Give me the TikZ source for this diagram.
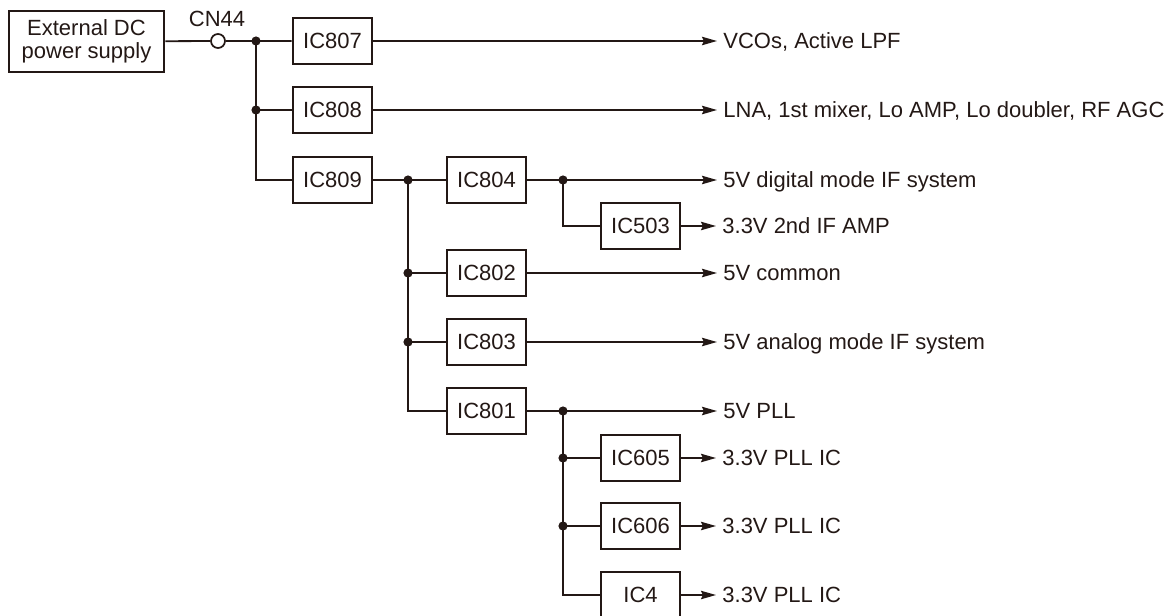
\documentclass[tikz,border=0pt]{standalone}
\usepackage{fontspec}
\setmainfont{Liberation Sans}
\usetikzlibrary{arrows.meta}
\definecolor{ink}{RGB}{35,24,21}
\tikzset{
  icbox/.style={draw=ink, line width=1.3pt, minimum width=39.5pt, minimum height=23pt, inner sep=0pt, text=ink, font=\fontsize{11}{12}\selectfont, text height=7.9pt, text depth=0pt},
  supplybox/.style={draw=ink, line width=1.3pt, minimum width=77.5pt, minimum height=30.5pt, inner sep=0pt, text=ink, align=center, font=\fontsize{11}{11.5}\selectfont},
  jack/.style={circle, draw=ink, fill=white, line width=0.85pt, minimum size=7pt, inner sep=0pt},
  tag/.style={text=ink, inner sep=0pt, font=\fontsize{11}{12}\selectfont},
  load/.style={anchor=west, text=ink, inner sep=3pt, font=\fontsize{11}{12}\selectfont, text height=7.9pt, text depth=0pt},
  wire/.style={draw=ink, line width=0.9pt},
  feed/.style={wire, -{Stealth[length=7.5pt, width=4.2pt, inset=1pt]}},
}
\begin{document}
\begin{tikzpicture}[x=0.5pt, y=-0.5pt]
\useasboundingbox (0,0) rectangle (1170,615);
% supply side
\node[supplybox] (dc) at (86.5,41.5) {External DC\\power supply};
\node[jack] (cn44) at (218,41) {};
\node[tag] (cn44t) at (217,19) {CN44};
\coordinate (j1) at (256,41);
% regulators
\node[icbox] (ic807) at (332.5,41) {IC807};
\node[icbox] (ic808) at (332.5,110) {IC808};
\node[icbox] (ic809) at (332.5,180) {IC809};
\coordinate (j2) at (408,180);
\node[icbox] (ic804) at (486.5,180) {IC804};
\node[icbox] (ic802) at (486.5,273) {IC802};
\node[icbox] (ic803) at (486.5,342) {IC803};
\node[icbox] (ic801) at (486.5,411) {IC801};
\coordinate (j3) at (563,180);
\node[icbox] (ic503) at (640.5,226) {IC503};
\coordinate (j4) at (563,411);
\node[icbox] (ic605) at (640.5,458) {IC605};
\node[icbox] (ic606) at (640.5,526) {IC606};
\node[icbox] (ic4) at (640.5,595) {IC4};
% loads
\node[load] (l807) at (717,41) {VCOs, Active LPF};
\node[load] (l808) at (717,110) {LNA, 1st mixer, Lo AMP, Lo doubler, RF AGC};
\node[load] (l804) at (717,180) {5V digital mode IF system};
\node[load] (l503) at (716,226) {3.3V 2nd IF AMP};
\node[load] (l802) at (717,273) {5V common};
\node[load] (l803) at (717,342) {5V analog mode IF system};
\node[load] (l801) at (717,411) {5V PLL};
\node[load] (l605) at (716,458) {3.3V PLL IC};
\node[load] (l606) at (716,526) {3.3V PLL IC};
\node[load] (l4) at (716,595) {3.3V PLL IC};
% wiring
\draw[wire] (dc) -- (cn44) -- (j1) -- (ic807);
\draw[wire] (j1) |- (ic809);
\draw[wire] (j1 |- ic808) -- (ic808);
\draw[wire] (ic809) -- (j2) -- (ic804);
\draw[wire] (j2) |- (ic801);
\draw[wire] (j2 |- ic802) -- (ic802);
\draw[wire] (j2 |- ic803) -- (ic803);
\draw[wire] (j3) |- (ic503);
\draw[wire] (j4) |- (ic4);
\draw[wire] (j4 |- ic605) -- (ic605);
\draw[wire] (j4 |- ic606) -- (ic606);
\draw[feed] (ic807) -- (l807);
\draw[feed] (ic808) -- (l808);
\draw[feed] (ic804) -- (l804);
\draw[feed] (ic503) -- (l503);
\draw[feed] (ic802) -- (l802);
\draw[feed] (ic803) -- (l803);
\draw[feed] (ic801) -- (l801);
\draw[feed] (ic605) -- (l605);
\draw[feed] (ic606) -- (l606);
\draw[feed] (ic4) -- (l4);
% junction dots
\fill[ink] (j1) circle (2.3pt);
\fill[ink] (j1 |- ic808) circle (2.3pt);
\fill[ink] (j2) circle (2.3pt);
\fill[ink] (j2 |- ic802) circle (2.3pt);
\fill[ink] (j2 |- ic803) circle (2.3pt);
\fill[ink] (j3) circle (2.3pt);
\fill[ink] (j4) circle (2.3pt);
\fill[ink] (j4 |- ic605) circle (2.3pt);
\fill[ink] (j4 |- ic606) circle (2.3pt);
\end{tikzpicture}
\end{document}
